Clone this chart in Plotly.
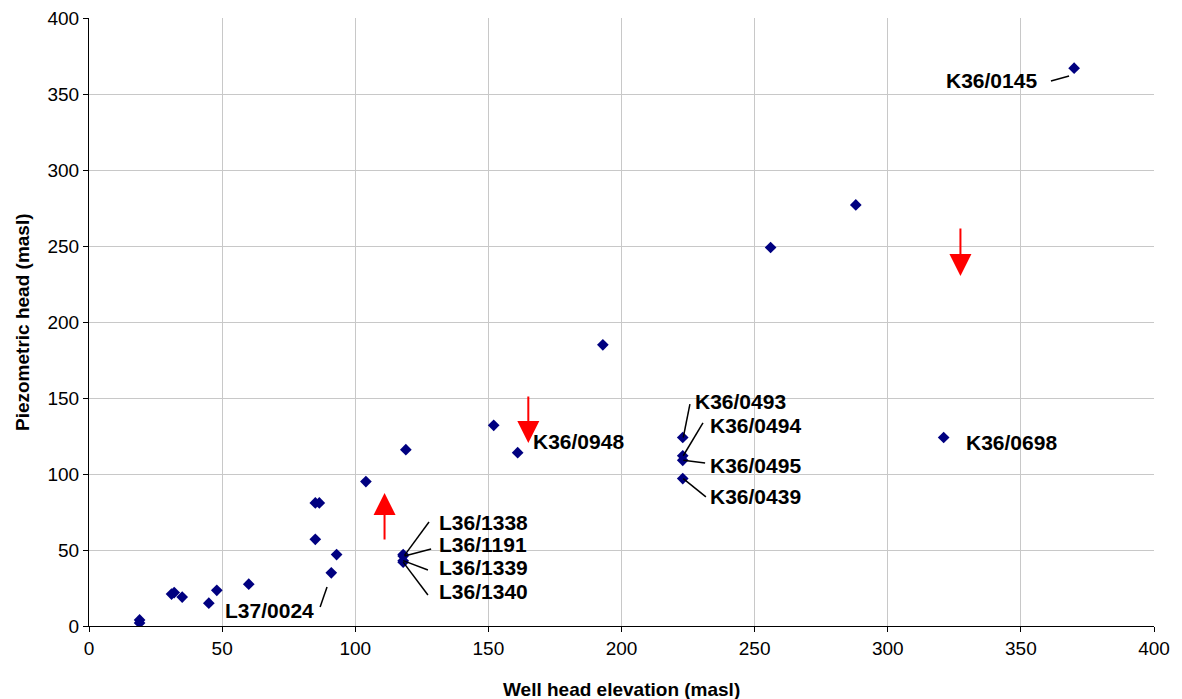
import plotly.graph_objects as go

# Data: well head elevation (x) vs piezometric head (y)
well_elev = [370, 288, 256, 193, 152, 161, 119, 104,
             223, 223, 223, 223, 321,
             118, 118, 118, 118,
             85, 86.5, 85, 93, 91, 60, 48, 45, 35, 31, 32, 19, 19]
piezo_head = [367, 277, 249, 185, 132, 114, 116, 95,
              124, 112, 109, 97, 124,
              47, 46, 43, 42,
              81, 81, 57, 47, 35, 27.5, 23.5, 15, 19, 21, 22, 4, 2]

# Labels: text, anchor x, anchor y, alignment
label_text = ["K36/0145", "K36/0948", "K36/0698",
              "K36/0493", "K36/0494", "K36/0495", "K36/0439",
              "L36/1338", "L36/1191", "L36/1339", "L36/1340", "L37/0024"]
label_x = [356.8, 166, 328.6,
           226.9, 232.5, 232.5, 232.5,
           130.7, 130.7, 130.7, 130.7, 85.3]
label_y = [358.6, 121.7, 121,
           147.4, 132.2, 105.3, 85.5,
           68.4, 53.3, 38.2, 23, 10.5]
label_align = ["right", "left", "left",
               "left", "left", "left", "left",
               "left", "left", "left", "left", "right"]

# Leader lines: from (x0,y0) to (x1,y1)
lead_x0 = [361.3, 223.2, 223.2, 223.2, 223.2, 118.5, 118.5, 118, 118, 89.4]
lead_y0 = [358.6, 124, 112, 109, 97, 46.5, 46, 43, 42, 25.7]
lead_x1 = [368.1, 225.7, 230.6, 231.4, 231.7, 127.7, 128.5, 127.3, 127.3, 86.8]
lead_y1 = [361.8, 146, 133.6, 107.2, 84.9, 68.4, 50.7, 36.8, 20.4, 12.5]

# Red arrows: tail -> tip
arrow_x = [111, 165, 327.3]
arrow_tail_y = [56, 152, 262.5]
arrow_tip_y = [87.5, 120.4, 230.3]

x_title = "Well head elevation (masl)"
y_title = "Piezometric head (masl)"

fig = go.Figure()
fig.add_trace(go.Scatter(
    x=well_elev, y=piezo_head, mode="markers",
    marker=dict(symbol="diamond", size=9, color="#000080"),
    showlegend=False, hoverinfo="x+y"))

for x0, y0, x1, y1 in zip(lead_x0, lead_y0, lead_x1, lead_y1):
    fig.add_shape(type="line", x0=x0, y0=y0, x1=x1, y1=y1,
                  xref="x", yref="y", line=dict(color="black", width=1.5))

for t, x, y, a in zip(label_text, label_x, label_y, label_align):
    fig.add_annotation(x=x, y=y, text="<b>%s</b>" % t, showarrow=False,
                       xanchor=a, yanchor="middle",
                       font=dict(family="Liberation Sans, Arial", size=21, color="black"))

for x, ty, hy in zip(arrow_x, arrow_tail_y, arrow_tip_y):
    fig.add_annotation(x=x, y=hy, ax=x, ay=ty, axref="x", ayref="y",
                       xref="x", yref="y", text="", showarrow=True,
                       arrowhead=2, arrowsize=2.2, arrowwidth=2, arrowcolor="red")

# Axis titles
fig.add_annotation(x=0.5, y=0, xref="paper", yref="paper", text="<b>%s</b>" % x_title,
                   showarrow=False, xanchor="center", yanchor="middle", yshift=-63,
                   font=dict(family="Liberation Sans, Arial", size=19, color="black"))
fig.add_annotation(x=0, y=0.5, xref="paper", yref="paper", text="<b>%s</b>" % y_title,
                   showarrow=False, xanchor="center", yanchor="middle", xshift=-67,
                   textangle=-90,
                   font=dict(family="Liberation Sans, Arial", size=19, color="black"))

fig.update_layout(
    width=1182, height=699,
    margin=dict(l=89, r=28, t=18, b=73),
    paper_bgcolor="white", plot_bgcolor="white",
    font=dict(family="Liberation Sans, Arial", size=19, color="black"),
    xaxis=dict(range=[0, 400], dtick=50, showgrid=True, gridcolor="#c8c8c8", gridwidth=1,
               showline=True, linecolor="black", linewidth=1, zeroline=False,
               ticks="outside", ticklen=5, tickcolor="black", automargin=False),
    yaxis=dict(range=[0, 400], dtick=50, showgrid=True, gridcolor="#c8c8c8", gridwidth=1,
               showline=True, linecolor="black", linewidth=1, zeroline=False,
               ticks="outside", ticklen=5, tickcolor="black", automargin=False),
)

fig.write_html("out.html", config={"displayModeBar": False},
               post_script="document.body.style.margin='0px';")
